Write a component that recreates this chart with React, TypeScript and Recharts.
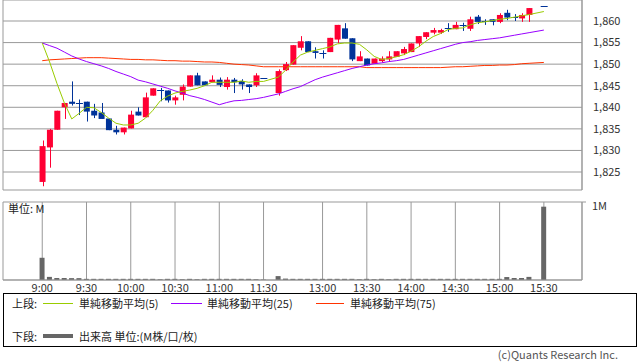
import { ComposedChart, Bar, Line, XAxis, YAxis, CartesianGrid } from 'recharts'

const FONT = "'Noto Sans CJK JP', 'Noto Sans', sans-serif"
const GRID = '#999999'
const UP = '#ff0033'
const DOWN = '#003399'

// 5-minute slots counted from 9:00 (31 = lunch gap, 67 = closing auction wait)
const slots = [
  0, 1, 2, 3, 4, 5, 6, 7, 8, 9, 10, 11, 12, 13, 14, 15, 16, 17, 18, 19, 20, 21, 22, 23, 24, 25, 26, 27, 28, 29, 30,
  32, 33, 34, 35, 36, 37, 38, 39, 40, 41, 42, 43, 44, 45, 46, 47, 48, 49, 50, 51, 52, 53, 54, 55, 56, 57, 58, 59,
  60, 61, 62, 63, 64, 65, 66, 68,
]
const opens = [
  1822.7, 1830.7, 1834.8, 1840.0, 1841.3, 1841.0, 1841.3, 1839.2, 1838.8, 1837.4, 1834.8, 1834.2, 1835.1, 1839.0,
  1837.7, 1842.7, 1843.9, 1843.9, 1841.6, 1842.9, 1844.8, 1847.4, 1846.0, 1845.8, 1846.4, 1844.7, 1846.4, 1846.1,
  1845.3, 1845.1, 1846.9,
  1843.3, 1848.6, 1849.9, 1853.8, 1855.3, 1853.0, 1852.6, 1852.8, 1855.7, 1858.3, 1856.0, 1850.7, 1851.3, 1850.1,
  1850.7, 1851.1, 1851.7, 1852.5, 1852.8, 1854.8, 1856.3, 1857.3, 1857.3, 1858.3, 1858.1, 1859.1, 1858.2, 1861.0,
  1860.0, 1860.4, 1859.8, 1861.9, 1861.0, 1860.6, 1861.4, 1863.5,
]
const highs = [
  1832.3, 1835.0, 1839.2, 1841.0, 1846.0, 1841.8, 1841.3, 1840.8, 1841.0, 1837.4, 1835.7, 1835.3, 1839.2, 1840.0,
  1843.4, 1844.4, 1844.5, 1843.9, 1842.7, 1845.3, 1847.4, 1848.0, 1846.0, 1847.4, 1846.9, 1847.0, 1846.8, 1846.5,
  1845.3, 1847.9, 1846.9,
  1848.8, 1850.5, 1854.4, 1856.5, 1855.3, 1853.9, 1853.2, 1856.1, 1859.1, 1859.5, 1856.0, 1853.0, 1851.3, 1851.3,
  1851.8, 1853.0, 1853.0, 1854.0, 1854.8, 1856.5, 1857.4, 1858.4, 1858.2, 1859.5, 1859.8, 1859.6, 1861.0, 1861.4,
  1860.4, 1860.4, 1861.8, 1862.6, 1861.6, 1861.8, 1863.0, 1863.5,
]
const lows = [
  1821.7, 1826.0, 1834.8, 1837.3, 1840.4, 1838.2, 1836.7, 1837.5, 1837.3, 1834.7, 1833.7, 1833.7, 1835.1, 1838.1,
  1837.7, 1842.7, 1841.4, 1841.1, 1840.6, 1841.6, 1844.8, 1845.1, 1845.1, 1845.8, 1844.7, 1844.1, 1843.3, 1844.1,
  1843.3, 1844.7, 1846.9,
  1842.7, 1848.4, 1849.9, 1853.2, 1852.8, 1851.3, 1851.3, 1852.8, 1854.9, 1855.9, 1850.7, 1850.7, 1849.7, 1850.1,
  1850.4, 1850.5, 1851.7, 1852.1, 1852.8, 1854.0, 1855.8, 1856.9, 1857.0, 1857.5, 1858.1, 1857.7, 1857.7, 1859.3,
  1859.1, 1859.0, 1859.5, 1860.2, 1860.0, 1859.8, 1859.8, 1863.5,
]
const closes = [
  1831.0, 1834.8, 1839.2, 1841.0, 1840.8, 1841.0, 1839.0, 1838.1, 1837.3, 1834.7, 1834.2, 1835.3, 1838.3, 1838.1,
  1842.3, 1844.4, 1843.9, 1841.6, 1842.3, 1844.8, 1847.4, 1845.1, 1845.1, 1846.4, 1845.2, 1846.4, 1845.8, 1845.3,
  1844.7, 1847.4, 1846.9,
  1848.4, 1850.0, 1854.4, 1855.3, 1852.8, 1852.6, 1852.6, 1856.1, 1859.1, 1855.9, 1851.1, 1851.8, 1849.7, 1851.3,
  1851.3, 1851.8, 1853.0, 1853.5, 1854.8, 1856.5, 1857.4, 1857.9, 1857.9, 1858.3, 1859.1, 1859.1, 1860.4, 1859.8,
  1860.0, 1859.8, 1861.4, 1860.8, 1861.0, 1861.4, 1863.0, 1863.5,
]
const ma5 = [
  1854.9, 1850.5, 1845.5, 1841.0, 1837.3, 1838.6, 1840.0, 1839.9, 1838.8, 1837.5, 1836.3, 1835.9, 1835.9, 1836.3,
  1837.5, 1839.3, 1841.5, 1842.6, 1843.3, 1843.7, 1844.0, 1844.4, 1845.0, 1845.8, 1845.8, 1845.8, 1845.8, 1846.1,
  1845.8, 1846.0, 1846.0,
  1847.0, 1848.6, 1850.5, 1852.1, 1852.8, 1853.2, 1853.6, 1854.0, 1854.7, 1854.9, 1854.9, 1854.6, 1853.3, 1851.8,
  1851.1, 1851.3, 1851.7, 1852.2, 1853.0, 1854.0, 1855.3, 1856.4, 1857.1, 1858.0, 1858.3, 1858.4, 1859.1, 1859.6,
  1859.8, 1860.1, 1860.4, 1860.6, 1860.9, 1861.2, 1861.5, 1862.2,
]
const ma25 = [
  1854.9, 1854.3, 1853.7, 1852.8, 1851.9, 1851.2, 1850.6, 1850.1, 1849.6, 1849.0, 1848.3, 1847.7, 1847.1, 1846.3,
  1845.9, 1845.4, 1844.9, 1844.4, 1843.8, 1843.3, 1842.7, 1842.3, 1841.8, 1841.2, 1840.6, 1841.1, 1841.5, 1841.6,
  1841.8, 1842.0, 1842.3,
  1843.1, 1843.7, 1844.3, 1844.8, 1845.6, 1846.4, 1847.0, 1847.5, 1848.0, 1848.5, 1849.0, 1849.4, 1849.8, 1850.1,
  1850.3, 1850.6, 1850.8, 1851.1, 1851.6, 1852.1, 1852.6, 1853.1, 1853.6, 1854.1, 1854.6, 1855.0, 1855.2, 1855.5,
  1855.7, 1855.9, 1856.1, 1856.4, 1856.7, 1857.0, 1857.3, 1857.9,
]
const ma75 = [
  1850.8, 1851.0, 1851.1, 1851.2, 1851.3, 1851.4, 1851.5, 1851.5, 1851.5, 1851.4, 1851.3, 1851.2, 1851.1, 1851.1,
  1851.0, 1851.0, 1850.9, 1850.8, 1850.8, 1850.7, 1850.7, 1850.6, 1850.5, 1850.5, 1850.4, 1850.2, 1850.0, 1849.9,
  1849.8, 1849.6, 1849.4,
  1849.4, 1849.4, 1849.4, 1849.4, 1849.4, 1849.4, 1849.4, 1849.4, 1849.4, 1849.4, 1849.4, 1849.4, 1849.2, 1849.2,
  1849.2, 1849.2, 1849.2, 1849.2, 1849.2, 1849.2, 1849.2, 1849.2, 1849.2, 1849.3, 1849.4, 1849.4, 1849.5, 1849.6,
  1849.7, 1849.7, 1849.8, 1849.8, 1849.9, 1850.1, 1850.2, 1850.4,
]
// volume in millions
const volumes = [
  0.285, 0.04, 0.026, 0.026, 0.024, 0.024, 0.015, 0.015, 0.015, 0.015, 0.015, 0.015, 0.015, 0.015, 0.015, 0.015,
  0.01, 0.015, 0.015, 0.01, 0.015, 0.01, 0.015, 0.015, 0.015, 0.015, 0.015, 0.015, 0.015, 0.01, 0.006,
  0.05, 0.018, 0.015, 0.015, 0.015, 0.015, 0.015, 0.015, 0.015, 0.015, 0.015, 0.01, 0.015, 0.01, 0.015, 0.01,
  0.015, 0.015, 0.015, 0.015, 0.015, 0.015, 0.015, 0.015, 0.015, 0.015, 0.015, 0.015, 0.015, 0.015, 0.015,
  0.038, 0.026, 0.026, 0.04, 0.94,
]

const tickSlots = [0, 6, 12, 18, 24, 30, 38, 44, 50, 56, 62, 68]
const tickLabels = ['9:00', '9:30', '10:00', '10:30', '11:00', '11:30', '13:00', '13:30', '14:00', '14:30', '15:00', '15:30']
const priceTicks = [1825, 1830, 1835, 1840, 1845, 1850, 1855, 1860]

const X_DOMAIN = [-5.32, 73.17]
const PRICE_DOMAIN = [1820.83, 1864.87]

const rows = slots.map((slot, i) => ({
  slot,
  open: opens[i],
  high: highs[i],
  low: lows[i],
  close: closes[i],
  range: [lows[i], highs[i]],
  ma5: ma5[i],
  ma25: ma25[i],
  ma75: ma75[i],
  vol: volumes[i],
}))

const slotLabel = (v: number) => tickLabels[tickSlots.indexOf(v)] ?? ''

const Candle = (props: any) => {
  const { x, y, width, height, payload } = props
  if (x == null || y == null) return null
  const { open, close, high, low } = payload
  const color = close > open ? UP : DOWN
  const span = high - low
  const toY = (v: number) => (span === 0 ? y : y + ((high - v) / span) * height)
  const cx = Math.round(x + width / 2) + 0.5
  const top = toY(Math.max(open, close))
  const bot = toY(Math.min(open, close))
  return (
    <g>
      {height > 0 && <line x1={cx} x2={cx} y1={y} y2={y + height} stroke={color} strokeWidth={1} />}
      {bot - top < 1.2 ? (
        <line x1={x - 0.5} x2={x + width + 0.5} y1={Math.round(top) + 0.5} y2={Math.round(top) + 0.5} stroke={color} strokeWidth={1} />
      ) : (
        <rect x={x} y={top} width={width} height={bot - top} fill={color} />
      )}
    </g>
  )
}

const VolTick = (props: any) => {
  const { x, y } = props
  return (
    <text x={x} y={y + 4} dy="0.355em" fontSize={11} fill="#333" fontFamily={FONT}>
      1M
    </text>
  )
}

const tickStyle = { fontSize: 11, fill: '#333', fontFamily: FONT }

const LegendLine = ({ x1, x2, y, color, w = 1 }: { x1: number; x2: number; y: number; color: string; w?: number }) => (
  <div style={{ position: 'absolute', left: x1, top: y - w / 2, width: x2 - x1, height: w, background: color }} />
)

const LegendText = ({ x, y, children }: { x: number; y: number; children: any }) => (
  <div style={{ position: 'absolute', left: x, top: y - 8, lineHeight: '16px', fontSize: 11, color: '#222', whiteSpace: 'nowrap' }}>
    {children}
  </div>
)

export default function App() {
  return (
    <div style={{ position: 'absolute', left: 0, top: 0, width: 638, height: 362, background: '#fff', fontFamily: FONT, overflow: 'hidden' }}>
      <div style={{ position: 'absolute', left: 0, top: 0 }}>
        <ComposedChart width={638} height={191} data={rows} margin={{ top: 0, right: 0, left: 3, bottom: 1 }}>
          <CartesianGrid stroke={GRID} strokeWidth={1} />
          <XAxis
            dataKey="slot"
            type="number"
            domain={X_DOMAIN}
            ticks={tickSlots}
            interval={0}
            height={0}
            tick={false}
            tickLine={false}
            axisLine={{ stroke: GRID }}
          />
          <YAxis yAxisId="edge" orientation="left" width={0} domain={PRICE_DOMAIN} tick={false} tickLine={false} axisLine={{ stroke: GRID }} />
          <YAxis
            orientation="right"
            width={56}
            domain={PRICE_DOMAIN}
            ticks={priceTicks}
            interval={0}
            allowDataOverflow
            tickLine={false}
            tickSize={0}
            tickMargin={11}
            axisLine={{ stroke: GRID }}
            tick={tickStyle}
            tickFormatter={(v: number) => v.toLocaleString('en-US')}
          />
          <Bar dataKey="range" barSize={6} shape={Candle} isAnimationActive={false} />
          <Line dataKey="ma75" type="linear" stroke="#ff3300" strokeWidth={1} dot={false} isAnimationActive={false} />
          <Line dataKey="ma25" type="linear" stroke="#9900ff" strokeWidth={1} dot={false} isAnimationActive={false} />
          <Line dataKey="ma5" type="linear" stroke="#99cc00" strokeWidth={1} dot={false} isAnimationActive={false} />
        </ComposedChart>
      </div>

      <div style={{ position: 'absolute', left: 0, top: 190 }}>
        <ComposedChart width={638} height={110} data={rows} margin={{ top: 12, right: 0, left: 3, bottom: 0 }}>
          <CartesianGrid stroke={GRID} strokeWidth={1} />
          <XAxis
            dataKey="slot"
            type="number"
            domain={X_DOMAIN}
            ticks={tickSlots}
            interval={0}
            height={20}
            tickLine={false}
            tickSize={0}
            tickMargin={4}
            axisLine={{ stroke: GRID }}
            tick={tickStyle}
            tickFormatter={slotLabel}
          />
          <YAxis yAxisId="edge" orientation="left" width={0} domain={[0, 1]} tick={false} tickLine={false} axisLine={{ stroke: GRID }} />
          <YAxis
            orientation="right"
            width={56}
            domain={[0, 1]}
            ticks={[1]}
            interval={0}
            tickLine={{ stroke: GRID }}
            tickSize={4}
            tickMargin={6}
            axisLine={{ stroke: GRID }}
            tick={<VolTick />}
          />
          <Bar dataKey="vol" barSize={5} fill="#666666" isAnimationActive={false} />
        </ComposedChart>
      </div>

      <div style={{ position: 'absolute', left: 8, top: 201, fontSize: 11, lineHeight: '14px', color: '#222' }}>単位: M</div>

      <div
        style={{
          position: 'absolute',
          left: 3,
          top: 293,
          width: 634,
          height: 54,
          border: '1px solid #000',
          boxSizing: 'border-box',
        }}
      />
      <LegendText x={12} y={303}>上段:</LegendText>
      <LegendLine x1={43} x2={73} y={303} color="#99cc00" />
      <LegendText x={79} y={303}>単純移動平均(5)</LegendText>
      <LegendLine x1={171} x2={202} y={303} color="#9900ff" />
      <LegendText x={207} y={303}>単純移動平均(25)</LegendText>
      <LegendLine x1={316} x2={344} y={303} color="#ff3300" />
      <LegendText x={350} y={303}>単純移動平均(75)</LegendText>

      <LegendText x={12} y={336}>下段:</LegendText>
      <LegendLine x1={43} x2={73} y={336} color="#666666" w={4} />
      <LegendText x={79} y={336}>出来高 単位:(M株/口/枚)</LegendText>

      <div style={{ position: 'absolute', right: 20, top: 348, fontSize: 11, lineHeight: '13px', color: '#555', whiteSpace: 'nowrap' }}>
        (c)Quants Research Inc.
      </div>
    </div>
  )
}
